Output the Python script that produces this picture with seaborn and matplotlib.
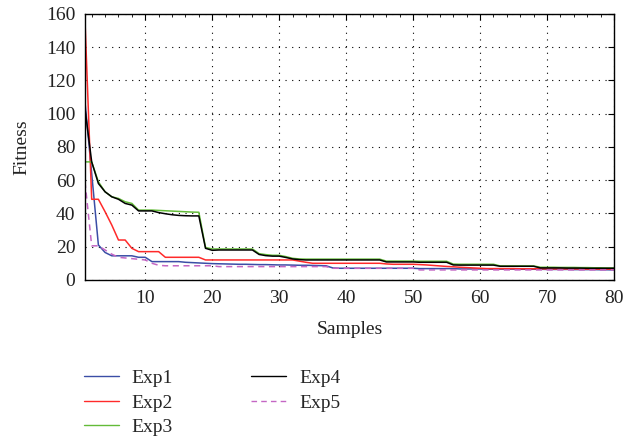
import numpy as np
import pandas as pd
import matplotlib
matplotlib.use("Agg")
import matplotlib.pyplot as plt
from matplotlib.ticker import MultipleLocator
import seaborn as sns

samples = list(range(1, 81))

exp1 = [107, 64, 21, 16.5, 14.5, 14.5, 14.5, 14.5, 13.6, 13.6,
        11, 11, 11, 11, 11, 10.6, 10.4, 10.2, 10.0, 9.8,
        9.7, 9.6, 9.5, 9.4, 9.4, 9.3, 9.2, 9.2, 9.1, 9.0,
        9.0, 8.9, 8.8, 8.8, 8.7, 8.6, 8.5, 7.2, 7.0, 7.0,
        7.0, 7.0, 7.0, 7.0, 7.0, 7.0, 7.0, 7.0, 7.0, 7.0,
        6.8, 6.8, 6.8, 6.8, 6.8, 6.8, 6.6, 6.6, 6.6, 6.6,
        6.5, 6.5, 6.5, 6.5, 6.5, 6.4, 6.4, 6.4, 6.4, 6.3,
        6.3, 6.3, 6.3, 6.2, 6.2, 6.2, 6.2, 6.1, 6.1, 6.0]

exp2 = [156, 48.5, 48.5, 41, 33, 24, 24, 19, 17, 17,
        17, 17, 13.6, 13.6, 13.6, 13.6, 13.6, 13.6, 12, 12,
        12, 12, 12, 12, 12, 12, 12, 12, 12, 12,
        12, 12, 11.3, 10.6, 10, 10, 10, 10, 10, 10,
        10, 10, 10, 10, 10, 9.6, 9.4, 9.4, 9.4, 9.4,
        9.2, 9.0, 8.7, 8.4, 8.1, 7.9, 7.6, 7.4, 7.2, 7.0,
        6.8, 6.8, 6.8, 6.8, 6.8, 6.7, 6.7, 6.7, 6.7, 6.6,
        6.6, 6.6, 6.6, 6.6, 6.5, 6.5, 6.5, 6.5, 6.5, 6.5]

exp3 = [71, 71, 59, 53, 50, 49, 47, 46, 42, 42,
        42, 41.8, 41.6, 41.4, 41.2, 41, 40.8, 40.7, 19.5, 18.6,
        18.6, 18.6, 18.6, 18.6, 18.6, 18.6, 15.8, 15.2, 14.8, 14.8,
        14, 13, 12.6, 12.5, 12.5, 12.5, 12.5, 12.5, 12.5, 12.5,
        12.5, 12.5, 12.5, 12.5, 12.5, 11.3, 11.3, 11.3, 11.3, 11.3,
        11.2, 11.2, 11.2, 11.2, 11.2, 9.5, 9.4, 9.4, 9.4, 9.4,
        9.4, 9.4, 8.4, 8.4, 8.4, 8.4, 8.4, 8.4, 7.6, 7.6,
        7.6, 7.5, 7.5, 7.5, 7.4, 7.4, 7.3, 7.3, 7.2, 7.2]

exp4 = [103, 71, 58, 53, 50, 48.5, 46, 45, 41.5, 41.5,
        41.5, 40.5, 39.8, 39.2, 38.8, 38.6, 38.5, 38.5, 19, 17.8,
        18, 18, 18, 18, 18, 18, 15.3, 14.6, 14.3, 14.3,
        13.5, 12.6, 12.2, 12, 12, 12, 12, 12, 12, 12,
        12, 12, 12, 12, 12, 10.8, 10.8, 10.8, 10.8, 10.8,
        10.6, 10.6, 10.6, 10.6, 10.6, 9.0, 8.9, 8.9, 8.9, 8.9,
        8.9, 8.9, 8.2, 8.2, 8.2, 8.2, 8.2, 8.2, 7.2, 7.2,
        7.2, 7.2, 7.1, 7.1, 7.1, 7.0, 7.0, 7.0, 7.0, 7.0]

exp5 = [59, 20.5, 20.5, 18, 15.5, 13.6, 13.2, 12.8, 12.4, 12,
        10, 8.8, 8.5, 8.5, 8.5, 8.5, 8.5, 8.5, 8.5, 8.5,
        8, 8, 8, 8, 8, 8, 8, 8, 8, 8,
        8, 8, 8, 8, 8, 8, 8, 7, 7, 7,
        7, 7, 7, 7, 7, 7, 7, 7, 7, 7,
        6, 6, 6, 6, 6, 6, 6, 6, 6, 6,
        6, 6, 6, 6, 6, 6, 6, 6, 6, 6,
        6, 6, 6, 6, 6, 6, 6, 6, 6, 6]

names = ["Exp1", "Exp2", "Exp3", "Exp4", "Exp5"]
series = [exp1, exp2, exp3, exp4, exp5]
colors = {"Exp1": "#3b4ea6", "Exp2": "#ff2a2a", "Exp3": "#63bb38",
          "Exp4": "#000000", "Exp5": "#c466c4"}
dashes = {"Exp1": "", "Exp2": "", "Exp3": "", "Exp4": "", "Exp5": (4, 3)}

df = pd.concat([pd.DataFrame({"Samples": samples, "Fitness": s, "Exp": n})
                for n, s in zip(names, series)], ignore_index=True)

sns.set_style("white")
plt.rcParams["font.family"] = ["Liberation Serif", "DejaVu Serif"]
FS = 14

fig = plt.figure(figsize=(6.4, 4.45), dpi=100)
ax = fig.add_axes([0.1328, 0.371, 0.8266, 0.5977])

sns.lineplot(data=df, x="Samples", y="Fitness", hue="Exp", style="Exp",
             palette=colors, dashes=dashes, linewidth=1.1, ax=ax,
             legend=False, estimator=None)

ax.set_xlim(1, 80)
ax.set_ylim(0, 160)
ax.xaxis.set_major_locator(MultipleLocator(10))
ax.xaxis.set_minor_locator(MultipleLocator(2))
ax.yaxis.set_major_locator(MultipleLocator(20))
ax.tick_params(which="both", direction="in", top=True, right=True,
               labelsize=FS, color="black", labelcolor="#222222")
ax.tick_params(which="major", length=4, width=0.8)
ax.tick_params(which="minor", length=2, width=0.6)
ax.tick_params(axis="y", pad=7)
ax.tick_params(axis="x", pad=7)
ax.grid(True, which="major", color="black", linestyle=(0, (1, 5)), linewidth=0.8)
for sp in ax.spines.values():
    sp.set_color("black")
    sp.set_linewidth(1.0)
ax.set_xlabel("Samples", fontsize=FS, labelpad=10, color="#222222")
ax.set_ylabel("Fitness", fontsize=FS, labelpad=11, color="#222222")

handles = [plt.Line2D([], [], color=colors[n], lw=1.0,
                      linestyle=(0, (4, 3)) if n == "Exp5" else "-")
           for n in names]
fig.legend(handles, names, loc="upper left", bbox_to_anchor=(0.131, 0.17),
           ncol=2, frameon=False, fontsize=FS, handlelength=1.8,
           handletextpad=0.67, columnspacing=4.0, labelspacing=0.36,
           borderaxespad=0, borderpad=0)

fig.savefig("out.png", dpi=100)
